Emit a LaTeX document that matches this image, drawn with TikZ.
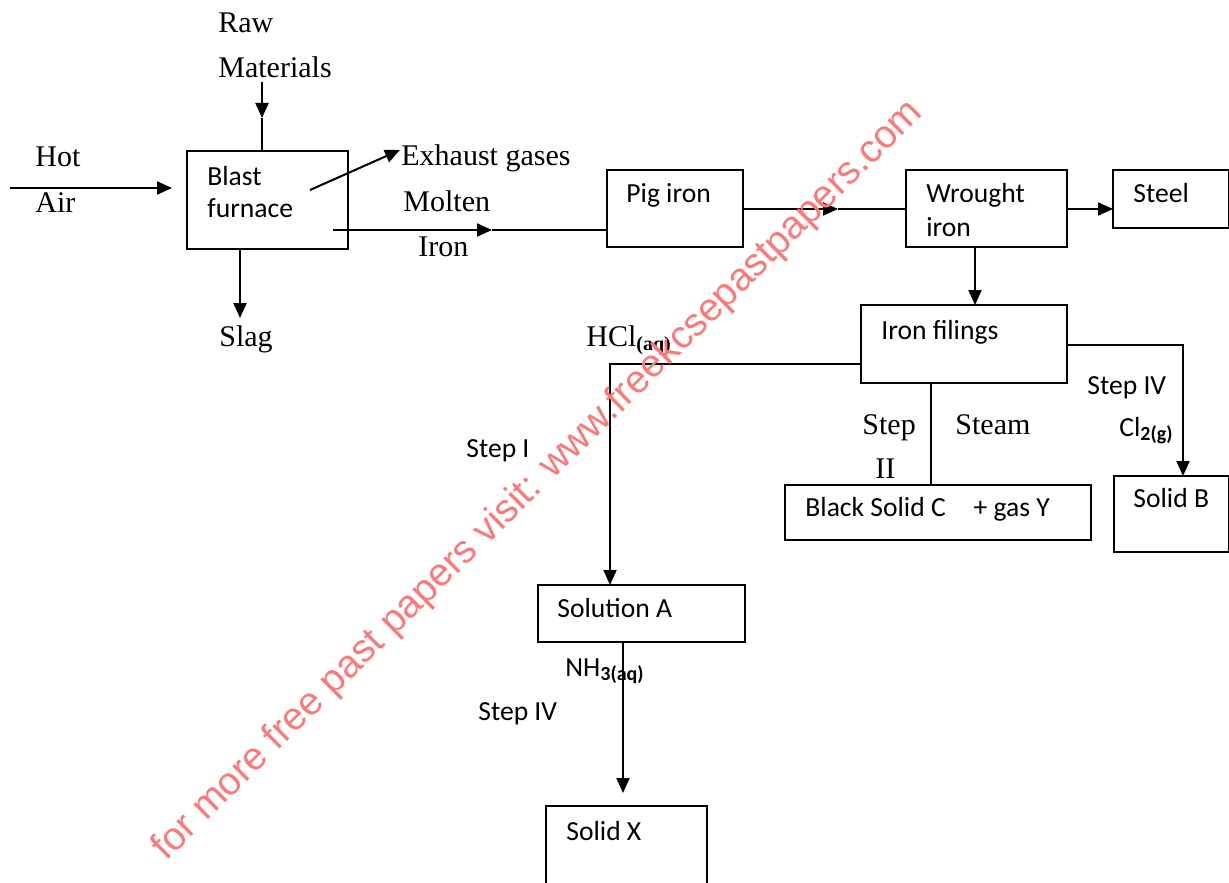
\documentclass[tikz,border=0pt]{standalone}
\usepackage{fontspec}
\setmainfont{Liberation Serif}
\newfontfamily\calfont{Carlito}
\newfontfamily\wmfont{Liberation Sans}
\usetikzlibrary{arrows.meta}
\definecolor{wm}{RGB}{255,120,120}
\newcommand{\subsc}[1]{\raisebox{-0.35ex}{\fontsize{10}{11}\selectfont\bfseries #1}}
\begin{document}
\begin{tikzpicture}[x=0.5pt,y=-0.5pt,
  box/.style={draw, line width=1pt, inner sep=0pt, outer sep=0pt, anchor=north west},
  ser/.style={font=\fontsize{15}{18}\selectfont, inner sep=0pt, anchor=base west},
  cal/.style={font=\calfont\fontsize{13.8}{17}\selectfont, inner sep=0pt, anchor=base west},
  ln/.style={line width=1pt},
  arr/.style={line width=1pt, -{Triangle[length=7.5pt,width=6.5pt]}},
  wmark/.style={font=\wmfont\fontsize{19.6}{24}\selectfont, text=wm, inner sep=0pt, anchor=base west, rotate=44.6}]
\useasboundingbox (0,0) rectangle (1229,882);
% boxes
\node[box, minimum width=80.5pt, minimum height=49pt] (bf) at (187,151) {};
\node[box, minimum width=68pt, minimum height=38.5pt] (pig) at (607,170) {};
\node[box, minimum width=80.5pt, minimum height=38.5pt] (wi) at (906,170) {};
\node[box, minimum width=58pt, minimum height=29pt] (st) at (1113,170) {};
\node[box, minimum width=103pt, minimum height=39pt] (if) at (861,305) {};
\node[box, minimum width=153pt, minimum height=27.5pt] (bs) at (785,485) {};
\node[box, minimum width=57.5pt, minimum height=38pt] (sb) at (1114,476) {};
\node[box, minimum width=103.5pt, minimum height=28.5pt] (sa) at (538,585) {};
\node[box, minimum width=80.5pt, minimum height=50pt] (sx) at (546,806) {};
% box texts
\node[cal] (tbf1) at (207,185) {Blast};
\node[cal] (tbf2) at (207,218) {furnace};
\node[cal] (tpig) at (626,203) {Pig iron};
\node[cal] (twi1) at (926,203) {Wrought};
\node[cal] (twi2) at (926,236) {iron};
\node[cal] (tst) at (1133,203) {Steel};
\node[cal] (tif) at (881,339) {Iron filings};
\node[cal] (tbs) at (805,516) {Black Solid C\hspace{14pt}+ gas Y};
\node[cal] (tsb) at (1133,507) {Solid B};
\node[cal] (tsa) at (557,617) {Solution A};
\node[cal] (tsx) at (566,840) {Solid X};
% free labels
\node[ser] (lraw) at (218,33) {Raw};
\node[ser] (lmat) at (218,78) {Materials};
\node[ser] (lhot) at (35,167) {Hot};
\node[ser] (lair) at (35,213) {Air};
\node[ser] (lex) at (401,166) {Exhaust gases};
\node[ser] (lmol) at (403,212) {Molten};
\node[ser] (liron) at (418,256) {Iron};
\node[ser] (lslag) at (219,346) {Slag};
\node[ser] (lhcl) at (586,346) {HCl\subsc{(aq)}};
\node[ser] (lstep2a) at (862,434) {Step};
\node[ser] (lstep2b) at (875,478) {II};
\node[ser] (lsteam) at (955,434) {Steam};
\node[cal] (lstep1) at (466,457) {Step I};
\node[cal] (lstep4r) at (1087,394) {Step IV};
\node[cal] (lcl) at (1119,436) {Cl\subsc{\calfont 2(g)}};
\node[cal] (lnh3) at (565,676) {NH\subsc{\calfont 3(aq)}};
\node[cal] (lstep4l) at (478,720) {Step IV};
% coordinates
\coordinate (rmtop) at (262,82);
\coordinate (rmmid) at (262,118);
\coordinate (hastart) at (10,188);
\coordinate (haend) at (172,188);
\coordinate (exs) at (310,190);
\coordinate (exe) at (400,150);
\coordinate (mis) at (333,230);
\coordinate (mim) at (492,230);
\coordinate (slagx) at (240,318);
\coordinate (pwm) at (838,209);
\coordinate (hclc) at (610,364);
\coordinate (s2x) at (931,383);
\coordinate (cl) at (1183,345);
\coordinate (sxend) at (623,793);
\coordinate (wix) at (975,247);
% connectors
\draw[arr] (rmtop) -- (rmmid);
\draw[ln] (rmmid) -- (bf.north -| rmmid);
\draw[arr] (hastart) -- (haend);
\draw[arr] (exs) -- (exe);
\draw[arr] (mis) -- (mim);
\draw[ln] (mim) -- (pig.west |- mim);
\draw[arr] (bf.south -| slagx) -- (slagx);
\draw[arr] (pig.east |- pwm) -- (pwm);
\draw[ln] (pwm) -- (wi.west |- pwm);
\draw[arr] (wi.east |- pwm) -- (st.west |- pwm);
\draw[arr] (wi.south -| wix) -- (if.north -| wix);
\draw[arr] (if.west |- hclc) -- (hclc) -- (sa.north -| hclc);
\draw[ln] (if.south -| s2x) -- (bs.north -| s2x);
\draw[arr] (if.east |- cl) -- (cl) -- (sb.north -| cl);
\draw[arr] (sa.south -| sxend) -- (sxend);
% watermark
\node[wmark] (wmk) at (166,862) {for more free past papers visit: www.freekcsepastpapers.com};
\end{tikzpicture}
\end{document}
